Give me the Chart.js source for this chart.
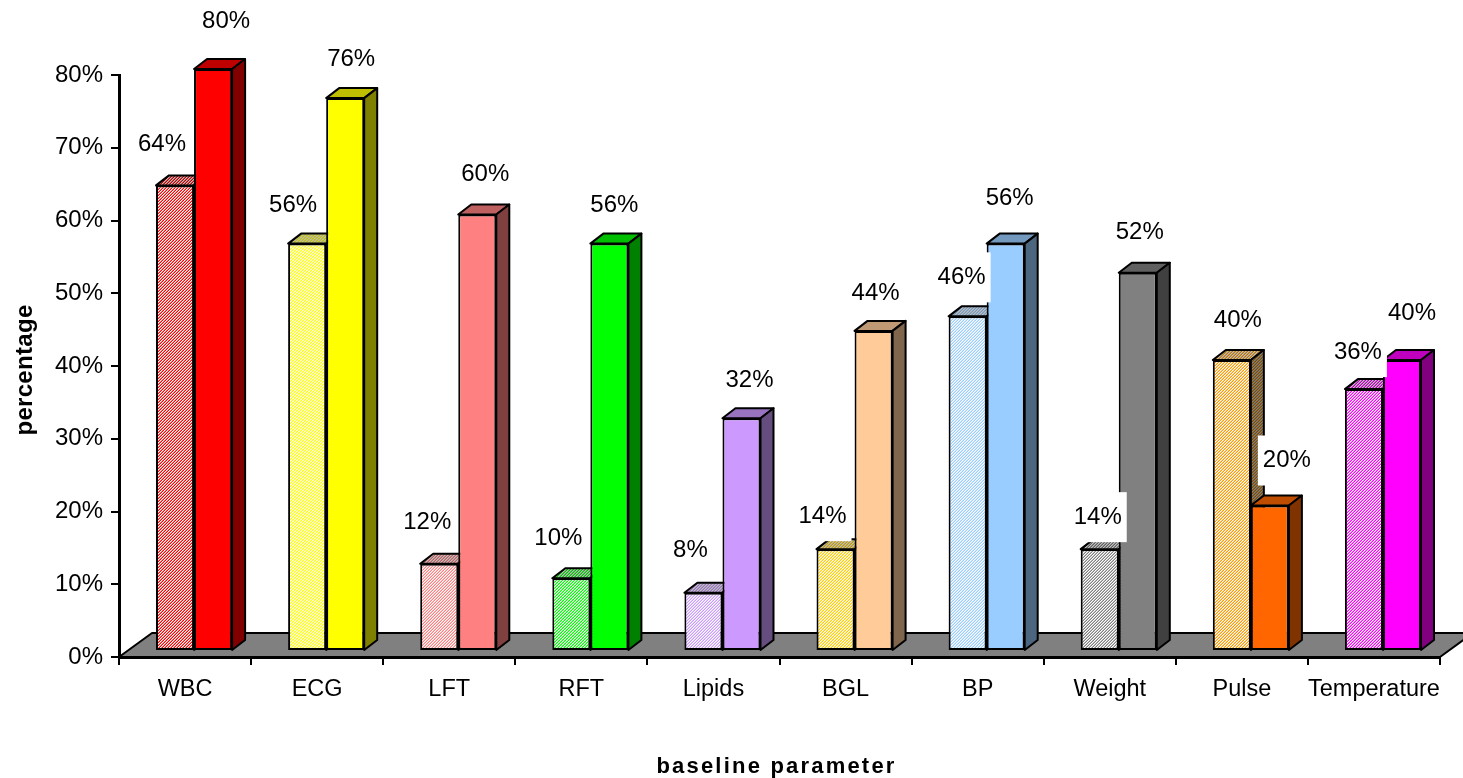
<!DOCTYPE html>
<html>
<head>
<meta charset="utf-8">
<title>baseline parameter</title>
<script src="https://cdn.jsdelivr.net/npm/chart.js@4/dist/chart.umd.min.js"></script>
<style>
    html, body { margin: 0; padding: 0; background: #fff; overflow: hidden; }
    canvas { display: block; }
</style>
</head>
<body>
<canvas id="chart-area" width="1463" height="778"></canvas>
<script>
const categories = ['WBC', 'ECG', 'LFT', 'RFT', 'Lipids', 'BGL', 'BP', 'Weight', 'Pulse', 'Temperature'];
const hatchedValues = [64, 56, 12, 10, 8, 14, 46, 14, 40, 36];
const solidValues = [80, 76, 60, 56, 32, 44, 56, 52, 20, 40];
const yTicks = [0, 10, 20, 30, 40, 50, 60, 70, 80];

const hatchColors = ['#ff0000', '#ffff00', '#ff8080', '#00ff00', '#cc99ff', '#ffcc00', '#99ccff', '#808080', '#ff9900', '#ff00ff'];
const solidColors = ['#ff0000', '#ffff00', '#ff8080', '#00ff00', '#cc99ff', '#ffcc99', '#99ccff', '#808080', '#ff6600', '#ff00ff'];

// labels were dragged by hand in the original, so each has its own nudge from the bar top
const hatchNudge = [[-13, -41], [-14, -38], [-12, -41], [-13, -40], [-13, -42], [-13, -33], [-6, -39], [-2, -32], [6, -40], [-6, -37]];
const solidNudge = [[13, -48], [6, -39], [8, -40], [5, -38], [8, -38], [2, -38], [4, -45], [2, -40], [17, -45], [10, -47]];

const FONT = '"Liberation Sans", Arial, sans-serif';
const shift = {x: 9, y: -6};     // bars stand in from the front edge of the floor
const depth = {x: 13, y: -10};   // bar depth
const floorDepth = {x: 33, y: -24};

function shade(hex, k) {
    let n = parseInt(hex.slice(1), 16);
    let r = Math.round((n >> 16 & 255) * k), g = Math.round((n >> 8 & 255) * k), b = Math.round((n & 255) * k);
    return 'rgb(' + r + ',' + g + ',' + b + ')';
}

// fine 3px diagonal: one full pixel, one half blended, one background
function hatch(color, back) {
    let c = document.createElement('canvas');
    c.width = c.height = 3;
    let x = c.getContext('2d');
    x.fillStyle = back;
    x.fillRect(0, 0, 3, 3);
    x.fillStyle = color;
    [[2, 0], [1, 1], [0, 2]].forEach(p => x.fillRect(p[0], p[1], 1, 1));
    x.globalAlpha = 0.5;
    [[1, 0], [0, 1], [2, 2]].forEach(p => x.fillRect(p[0], p[1], 1, 1));
    return x.createPattern(c, 'repeat');
}

const hatchFront = hatchColors.map(c => hatch(c, '#fff'));
const faces = [
    {top: hatchColors.map(c => hatch(shade(c, 0.75), shade('#ffffff', 0.75))), side: hatchColors.map(c => hatch(shade(c, 0.5), shade('#ffffff', 0.5)))},
    {top: solidColors.map(c => shade(c, 0.75)), side: solidColors.map(c => shade(c, 0.5))}
];

function poly(ctx, pts, fill) {
    ctx.beginPath();
    pts.forEach((p, i) => i ? ctx.lineTo(p[0], p[1]) : ctx.moveTo(p[0], p[1]));
    ctx.closePath();
    ctx.fillStyle = fill;
    ctx.fill();
    ctx.lineWidth = 2;
    ctx.strokeStyle = '#000';
    ctx.lineJoin = 'round';
    ctx.stroke();
}

// small fix-up of the axis title: tracking and a nudge, the scale still draws it
function tuneTitle(scale, spacing, dx, dy) {
    if (scale._tuned) return;
    scale._tuned = true;
    let draw = scale.drawTitle;
    scale.drawTitle = function() {
        let ctx = this.ctx;
        ctx.save();
        ctx.translate(dx, dy);
        ctx.letterSpacing = spacing;
        draw.call(this);
        ctx.restore();
    };
}

const bars3d = {
    id: 'bars3d',
    // left bar has to be painted first so the right bar hides its side face
    beforeDatasetsDraw(chart) {
        let ctx = chart.ctx, a = chart.chartArea;
        poly(ctx, [[a.left, a.bottom], [a.left + floorDepth.x, a.bottom + floorDepth.y],
            [a.right + floorDepth.x, a.bottom + floorDepth.y], [a.right, a.bottom]], '#808080');
        ctx.save();
        ctx.translate(shift.x, shift.y);
        [0, 1].forEach(d => {
            let meta = chart.getDatasetMeta(d), f = faces[d];
            meta.data.forEach((b, i) => {
                let l = b.x - b.width / 2, r = b.x + b.width / 2;
                poly(ctx, [[l, b.y], [l + depth.x, b.y + depth.y], [r + depth.x, b.y + depth.y], [r, b.y]], f.top[i]);
                poly(ctx, [[r, b.y], [r + depth.x, b.y + depth.y], [r + depth.x, b.base + depth.y], [r, b.base]], f.side[i]);
            });
            meta.controller.draw();
        });
        ctx.restore();
    },
    beforeDatasetDraw() { return false; },
    afterDatasetsDraw(chart) {
        let ctx = chart.ctx;
        [[0, hatchNudge, hatchedValues], [1, solidNudge, solidValues]].forEach(s => {
            chart.getDatasetMeta(s[0]).data.forEach((b, i) => {
                let cx = b.x + shift.x + s[1][i][0], cy = b.y + shift.y + s[1][i][1];
                ctx.fillStyle = '#fff';
                ctx.fillRect(cx - 29, cy - 25, 58, 50);
                ctx.fillStyle = '#000';
                ctx.font = '24px ' + FONT;
                ctx.textAlign = 'center';
                ctx.textBaseline = 'middle';
                ctx.fillText(s[2][i] + '%', cx, cy);
            });
        });
    }
};

new Chart(document.getElementById('chart-area'), {
    type: 'bar',
    data: {
        labels: categories,
        datasets: [
            {data: hatchedValues, backgroundColor: hatchFront},
            {data: solidValues, backgroundColor: solidColors}
        ]
    },
    options: {
        responsive: false,
        animation: false,
        events: [],
        layout: {padding: {left: 0, top: 75, right: 23, bottom: 0}},
        categoryPercentage: 0.576,
        barPercentage: 1,
        elements: {bar: {borderColor: '#000', borderWidth: 2, borderSkipped: false}},
        plugins: {legend: {display: false}, title: {display: false}, tooltip: {enabled: false}},
        scales: {
            x: {
                grid: {display: true, drawOnChartArea: false, color: '#000', lineWidth: 2, tickLength: 8},
                border: {display: true, color: '#000', width: 3},
                ticks: {color: '#000', font: {family: FONT, size: 23.5}, maxRotation: 0, autoSkip: false, padding: 10},
                title: {display: true, text: 'baseline parameter', color: '#000', font: {family: FONT, size: 22, weight: 'bold'}, padding: {top: 0, bottom: 0}},
                afterFit(s) { s.height = 121; tuneTitle(s, '2.2px', -3, 2); }
            },
            y: {
                min: 0, max: 80,
                afterBuildTicks(s) { s.ticks = yTicks.map(v => ({value: v})); },
                grid: {display: true, drawOnChartArea: false, color: '#000', lineWidth: 2, tickLength: 8},
                border: {display: true, color: '#000', width: 3},
                ticks: {color: '#000', font: {family: FONT, size: 24}, padding: 8, callback: v => v + '%'},
                title: {display: true, text: 'percentage', color: '#000', font: {family: FONT, size: 24, weight: 'bold'}, padding: {top: 11, bottom: 11}},
                afterFit(s) { s.width = 119; tuneTitle(s, '0.3px', 0, 4); }
            }
        }
    },
    plugins: [bars3d]
});
</script>
</body>
</html>
